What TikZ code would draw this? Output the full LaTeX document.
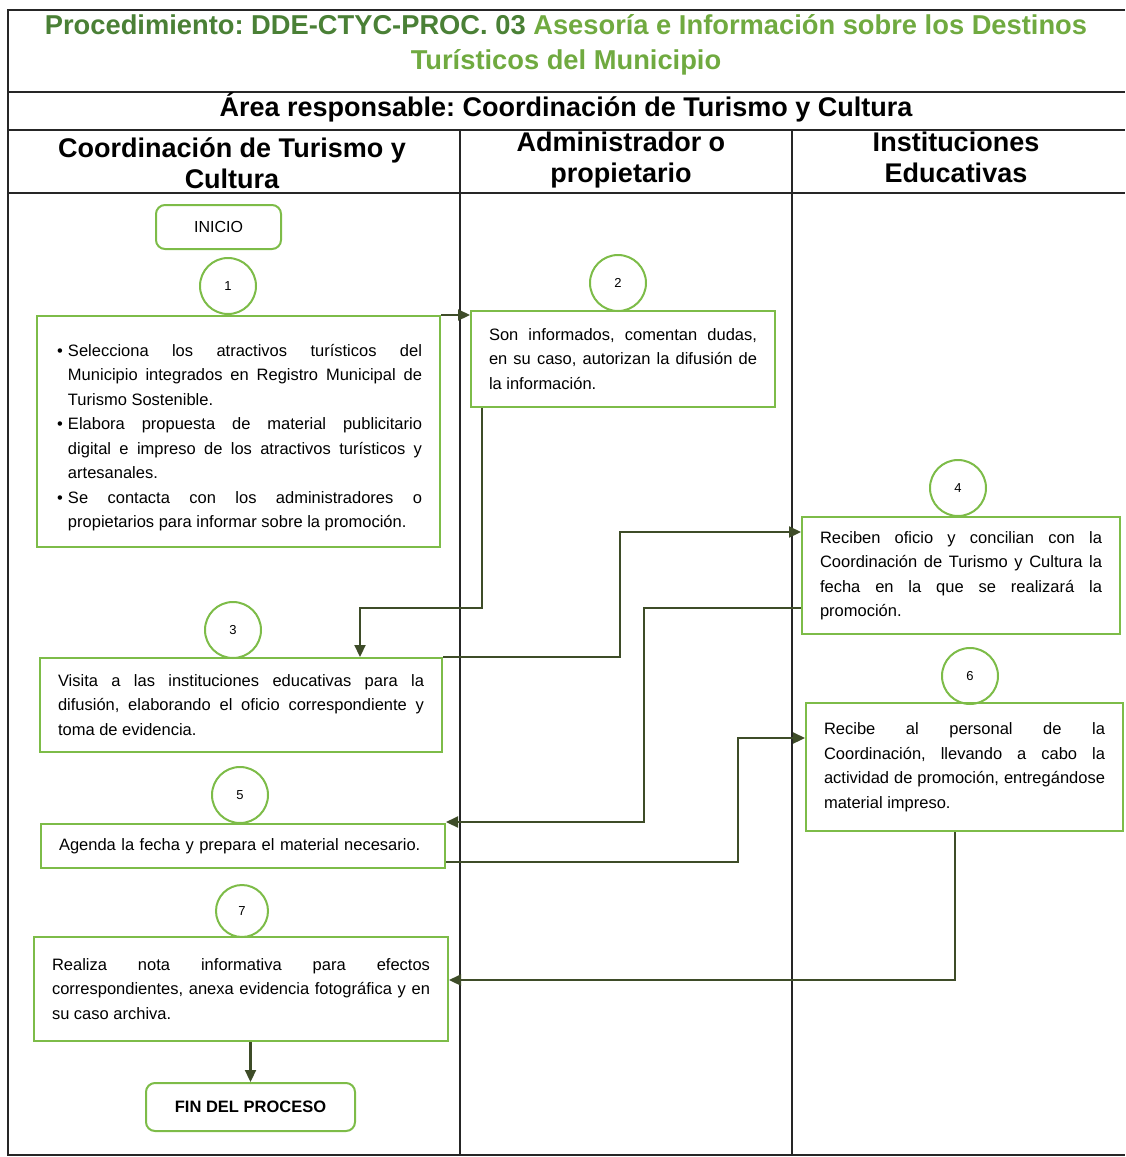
\documentclass[tikz,border=0pt]{standalone}
\usepackage{fontspec}
\setmainfont{Liberation Sans}
\usetikzlibrary{arrows.meta}
\frenchspacing

\definecolor{boxgreen}{RGB}{125,188,72}
\definecolor{titledark}{RGB}{74,128,54}
\definecolor{titlelight}{RGB}{112,170,64}
\definecolor{wire}{RGB}{62,76,40}

\tikzset{
  frame/.style={draw=black!85, line width=1.4pt},
  head/.style={font=\bfseries\fontsize{27}{31}\selectfont, align=center, inner sep=0pt},
  stepbox/.style={draw=boxgreen, line width=2pt, inner xsep=18pt, inner ysep=3pt,
    align=justify, font=\fontsize{16.5}{24.5}\selectfont},
  num/.style={circle, draw=boxgreen, line width=2pt, minimum size=56pt, inner sep=0pt,
    font=\fontsize{13}{15}\selectfont},
  term/.style={draw=boxgreen, line width=2pt, rounded corners=9pt, inner sep=0pt},
  flow/.style={draw=wire, line width=2.2pt, -{Triangle[length=12pt,width=11pt]}},
}

\begin{document}
\begin{tikzpicture}[x=1pt,y=-1pt]
\useasboundingbox (0,0) rectangle (1125,1157);

% table frame and swimlanes
\draw[frame] (1125,10) -- (8,10) -- (8,1155) -- (1125,1155);
\draw[frame] (8,92) -- (1125,92);
\draw[frame] (8,130) -- (1125,130);
\draw[frame] (8,193) -- (1125,193);
\draw[frame] (460,130) -- (460,1155);
\draw[frame] (792,130) -- (792,1155);

% headings
\node[head, font=\bfseries\fontsize{27.3}{35}\selectfont] (title) at (566,45)
  {\textcolor{titledark}{Procedimiento: DDE-CTYC-PROC. 03} \textcolor{titlelight}{Asesoría e Información sobre los Destinos}\\
   \textcolor{titlelight}{Turísticos del Municipio}};
\node[head] (area) at (566,107) {Área responsable: Coordinación de Turismo y Cultura};
\node[head] (lane1) at (232,163) {Coordinación de Turismo y\\Cultura};
\node[head] (lane2) at (621,160) {Administrador o\\propietario};
\node[head] (lane3) at (956,157) {Instituciones\\Educativas};

% start
\node[term, minimum width=125pt, minimum height=44pt, font=\fontsize{16}{18}\selectfont]
  (inicio) at (218.5,227) {INICIO};

% step 1
\node[num] (c1) at (228,286) {1};
\node[stepbox, text width=367pt, minimum height=231pt] (b1) at (238.5,431.5) {%
\begin{list}{\textbullet}{\setlength\leftmargin{13pt}\setlength\labelwidth{8pt}%
  \setlength\labelsep{5pt}\setlength\itemsep{0pt}\setlength\topsep{0pt}%
  \setlength\parsep{0pt}\setlength\partopsep{0pt}}
\item Selecciona los atractivos turísticos del\linebreak Municipio integrados en Registro Municipal de\linebreak Turismo Sostenible.
\item Elabora propuesta de material publicitario\linebreak digital e impreso de los atractivos turísticos y\linebreak artesanales.
\item Se contacta con los administradores o\linebreak propietarios para informar sobre la promoción.
\end{list}};

% step 2
\node[num] (c2) at (618,283) {2};
\node[stepbox, text width=268pt, minimum height=96pt] (b2) at (623,359)
  {Son informados, comentan dudas,\linebreak en su caso, autorizan la difusión de\linebreak la información.};

% step 3
\node[num] (c3) at (233,630) {3};
\node[stepbox, text width=366pt, minimum height=94pt] (b3) at (241,705)
  {Visita a las instituciones educativas para la\linebreak difusión, elaborando el oficio correspondiente y\linebreak toma de evidencia.};

% step 4
\node[num] (c4) at (958,488) {4};
\node[stepbox, text width=282pt, minimum height=117pt] (b4) at (961,575.5)
  {Reciben oficio y concilian con la\linebreak Coordinación de Turismo y Cultura la\linebreak fecha en la que se realizará la\linebreak promoción.};

% step 5
\node[num] (c5) at (240,795) {5};
\node[stepbox, align=left, text width=368pt, minimum height=44pt] (b5) at (243,846)
  {Agenda la fecha y prepara el material necesario.};

% step 6
\node[num] (c6) at (970,676) {6};
\node[stepbox, text width=281pt, minimum height=128pt] (b6) at (964.5,767)
  {Recibe al personal de la\linebreak Coordinación, llevando a cabo la\linebreak actividad de promoción, entregándose\linebreak material impreso.};

% step 7
\node[num, minimum size=52pt] (c7) at (242,911) {7};
\node[stepbox, text width=378pt, minimum height=104pt] (b7) at (241,989)
  {Realiza nota informativa para efectos\linebreak correspondientes, anexa evidencia fotográfica y en\linebreak su caso archiva.};

% end
\node[term, minimum width=209pt, minimum height=48pt, font=\bfseries\fontsize{16.5}{18}\selectfont]
  (fin) at (250.5,1107) {FIN DEL PROCESO};

% connectors
\draw[flow] (b1.north east) -- (b1.north east -| b2.west);
\draw[flow] ([xshift=12pt]b2.south west) |- (360,608) -- (b3.north -| 360,0);
\draw[flow] (b3.north east) -| (620,532) -- (b4.west |- 0,532);
\draw[flow] (b4.west |- 0,608) -| (644,822) -- (b5.east |- 0,822);
\draw[flow] (b5.east |- 0,862) -| (738,738) -- (b6.west |- 0,738);
\draw[flow] (b6.south -| 955,0) |- (b7.east |- 0,980);
\draw[flow] (b7.south -| fin.north) -- (fin.north);
\end{tikzpicture}
\end{document}
